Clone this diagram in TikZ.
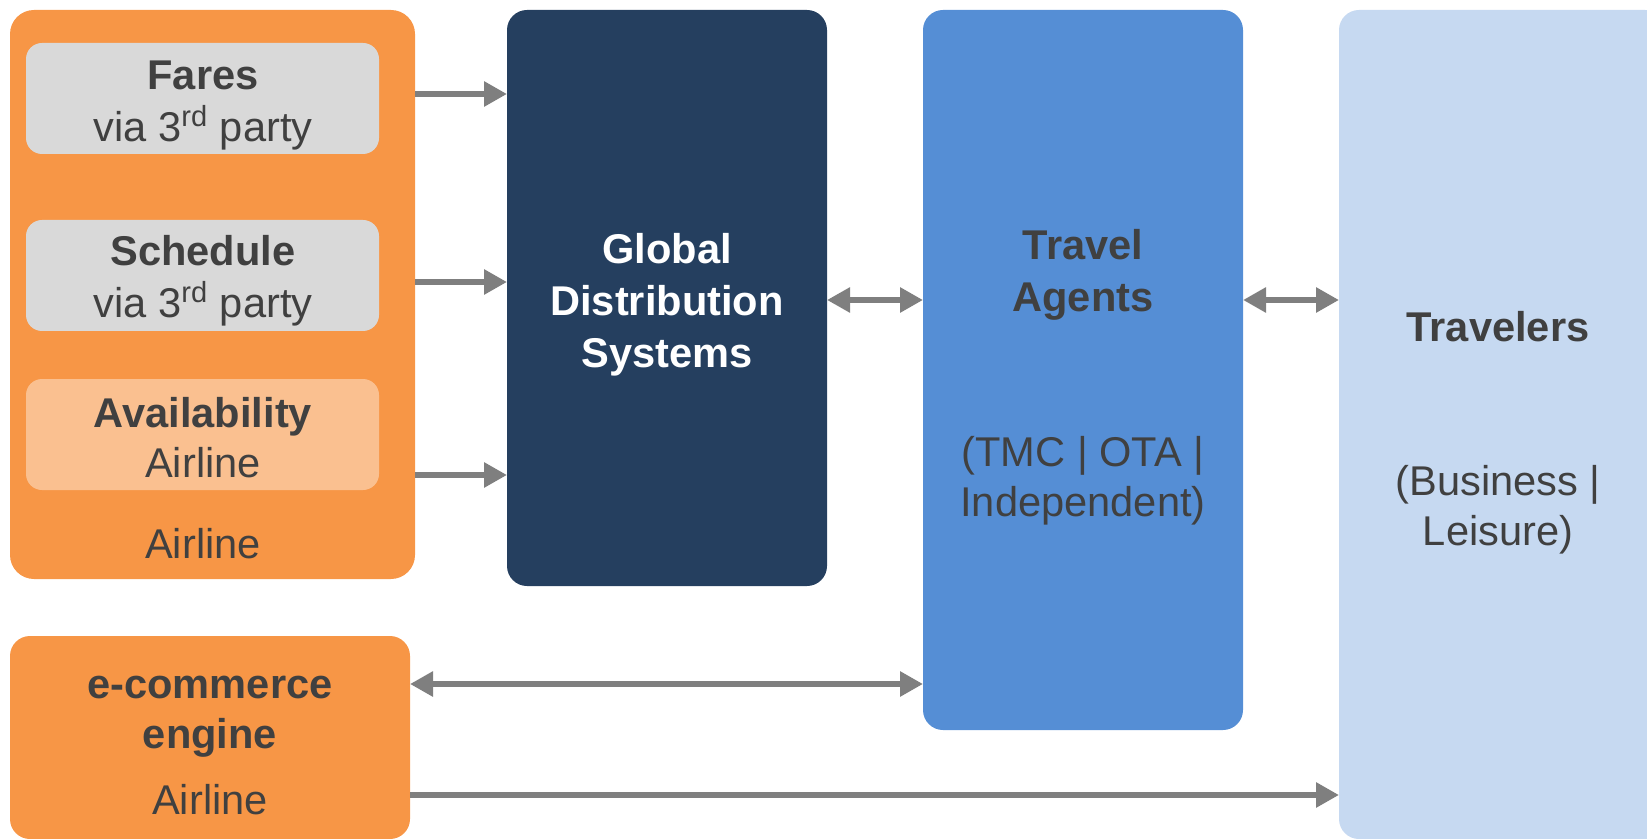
\documentclass[tikz,border=0pt]{standalone}
\usepackage{fontspec}
\setmainfont{Liberation Sans}
\usetikzlibrary{arrows.meta,fit}

\definecolor{airorange}{HTML}{F79646}
\definecolor{lightorange}{HTML}{FAC090}
\definecolor{feedgray}{HTML}{D9D9D9}
\definecolor{gdsnavy}{HTML}{253F5F}
\definecolor{agentblue}{HTML}{558ED5}
\definecolor{travblue}{HTML}{C6D9F1}
\definecolor{txtgray}{HTML}{404040}
\definecolor{arrowgray}{HTML}{7F7F7F}

\tikzset{
  box/.style = {inner sep=0pt, outer sep=0pt, rounded corners=10pt, draw=none},
  feed/.style = {box, rounded corners=8pt},
  lbl/.style = {text=txtgray, font=\fontsize{20.8}{25.7}\selectfont, inner sep=0pt, anchor=base},
  blbl/.style = {lbl, font=\fontsize{20.8}{25.7}\selectfont\bfseries},
  tip/.tip = {Triangle[width=12pt,length=11.5pt]},
  link/.style = {line width=3.4pt, draw=arrowgray, -tip},
  dlink/.style = {link, tip-tip},
}

\begin{document}
\begin{tikzpicture}[x=0.5pt, y=-0.5pt]
\useasboundingbox (0,0) rectangle (1647,839);

% airline side
\node[box, rounded corners=12pt, fill=airorange, fit={(10,10) (415,579)}] (airline) {};
\node[feed, fill=feedgray, fit={(26,43) (379,154)}] (fares) {};
\node[feed, fill=feedgray, fit={(26,220) (379,331)}] (sched) {};
\node[feed, fill=lightorange, fit={(26,379) (379,490)}] (avail) {};
\node[blbl] (faresT) at (203,90) {Fares};
\node[lbl] (faresS) at (203,142) {via 3\textsuperscript{rd} party};
\node[blbl] (schedT) at (203,266) {Schedule};
\node[lbl] (schedS) at (203,318) {via 3\textsuperscript{rd} party};
\node[blbl] (availT) at (203,427) {Availability};
\node[lbl] (availS) at (203,477) {Airline};
\node[lbl] (airlineS) at (203,558) {Airline};

\node[box, fill=airorange, fit={(10,636) (410,839)}] (ecom) {};
\node[blbl] (ecomT) at (210,698) {e-commerce};
\node[blbl] (ecomT2) at (210,748) {engine};
\node[lbl] (ecomS) at (210,814) {Airline};

% distribution chain
\node[box, fill=gdsnavy, fit={(507,10) (827,586)}] (gds) {};
\node[blbl, text=white] (gdsA) at (667,264) {Global};
\node[blbl, text=white] (gdsB) at (667,315) {Distribution};
\node[blbl, text=white] (gdsC) at (667,367) {Systems};

\node[box, fill=agentblue, fit={(923,10) (1243,730)}] (ta) {};
\node[blbl] (taA) at (1083,260) {Travel};
\node[blbl] (taB) at (1083,312) {Agents};
\node[lbl] (taC) at (1083,466) {(TMC | OTA |};
\node[lbl] (taD) at (1083,516) {Independent)};

% runs off the right edge
\node[box, fill=travblue, fit={(1339,10) (1665,839)}] (trav) {};
\node[blbl] (travA) at (1498,342) {Travelers};
\node[lbl] (travB) at (1498,495) {(Business |};
\node[lbl] (travC) at (1498,545) {Leisure)};

% arrow rows
\coordinate (rowF) at (0,94);
\coordinate (rowS) at (0,282);
\coordinate (rowA) at (0,475);
\coordinate (rowH) at (0,300);
\coordinate (rowE) at (0,684);
\coordinate (rowD) at (0,795);

\draw[link] (airline.east |- rowF) -- (gds.west |- rowF);
\draw[link] (airline.east |- rowS) -- (gds.west |- rowS);
\draw[link] (airline.east |- rowA) -- (gds.west |- rowA);
\draw[dlink] (gds.east |- rowH) -- (ta.west |- rowH);
\draw[dlink] (ta.east |- rowH) -- (trav.west |- rowH);
\draw[dlink] (ecom.east |- rowE) -- (ta.west |- rowE);
\draw[link] (ecom.east |- rowD) -- (trav.west |- rowD);
\end{tikzpicture}
\end{document}
